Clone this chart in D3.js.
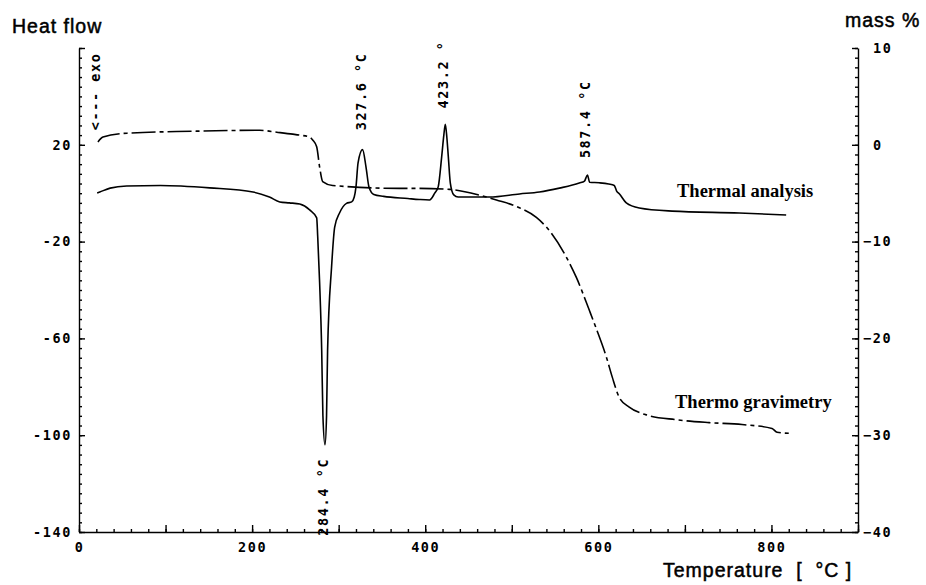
<!DOCTYPE html>
<meta charset="utf-8">
<style>
body { margin: 0; background: #fff; }
.tick text, .mono {
  font-family: "DejaVu Sans Mono", monospace;
  font-size: 13.5px;
  font-weight: bold;
  letter-spacing: 1.6px;
  fill: #000;
}
.title {
  font-family: "Liberation Sans", Arial, sans-serif;
  font-size: 19.5px;
  letter-spacing: 1px;
  fill: #000;
  stroke: #000;
  stroke-width: 0.5px;
}
.series {
  font-family: "Liberation Serif", "Times New Roman", serif;
  font-size: 18.5px;
  font-weight: bold;
  fill: #000;
}
.domain, .tick line { stroke: #000; stroke-width: 1.4px; }
</style>
<body>
<svg width="926" height="585"></svg>
<script src="https://d3js.org/d3.v7.min.js"></script>
<script>
// Thermal analysis (heat flow, left axis)
var dtaTemp = [21, 24, 36, 55, 94, 151, 201, 220, 232, 243, 255, 266.5, 274.6, 275.8, 278, 280.4, 281.8, 284.2,
  286, 287.2, 291.8, 295.4, 301, 309, 315, 318, 320, 322.4, 327.6, 331.6, 335, 340.6, 352, 380, 393, 405,
  411, 415, 419, 421.5, 423.2, 425, 426.7, 429, 433, 438, 463, 474, 509, 532, 555, 578, 584, 587.4, 590,
  601, 612, 618.4, 621, 624.2, 632.3, 647.3, 685.3, 762.7, 817];
var dtaHeat = [0.1, 0.5, 2.1, 3.0, 3.2, 2.2, 0.5, -1.6, -3.6, -4.0, -4.5, -6.9, -10.2, -18, -37, -65, -92, -104,
  -92, -65, -30.5, -14, -8.2, -4.2, -3.6, -1.6, 2.6, 12.5, 18, 10.8, 2.6, -0.5, -1.3, -2.2, -2.6, -2.8,
  0, 2.6, 15, 24, 28.5, 23, 15, 4.2, -0.7, -1.6, -1.6, -1.6, -0.3, 0.5, 2.1, 4.2, 5, 7.5, 4.5,
  4.3, 3.8, 3.2, 1.0, -0.2, -4.0, -6.1, -7.4, -8.2, -9.0];

// Thermo gravimetry (mass %, right axis)
var tgTemp = [21.9, 27.7, 55.4, 131.5, 208.8, 228.5, 247, 255, 266.5, 270, 274.6, 278, 281.5, 293, 370, 393.4,
  428, 462.7, 482.3, 508.8, 528.4, 540, 563, 574.6, 589.6, 597.7, 609.2, 616.1, 624.2, 635.7, 655.4,
  690, 728, 766, 800.7, 806.5, 820];
var tgMass = [0.3, 0.8, 1.2, 1.4, 1.5, 1.3, 1.1, 1.0, 0.8, 0.5, -0.2, -2.3, -3.8, -4.2, -4.5, -4.5,
  -4.6, -5.2, -5.7, -6.5, -7.5, -8.5, -11.6, -13.7, -17.1, -19.0, -21.9, -24, -26.1, -27.1, -27.9,
  -28.4, -28.7, -28.9, -29.3, -29.7, -29.8];

// peak annotations (temperature, label, label foot in heat-flow units)
var peakTemps = [284.4, 327.6, 423.2, 587.4];
var peakLabels = ["284.4 °C", "327.6 °C", "423.2 °", "587.4 °C"];
var peakFoot = [-141.5, 26, 35, 14.5];

var xTicksMinor = d3.range(0, 901, 20);
var xTicksMajor = d3.range(0, 901, 100);
var xTickLabels = [0, 200, 400, 600, 800];
var heatTicksMinor = d3.range(-140, 61, 4);
var heatTicksMajor = [-140, -100, -60, -20, 20, 60];
var heatTickLabels = [-140, -100, -60, -20, 20];
var massTicksMinor = d3.range(-40, 11, 1);
var massTicksMajor = [-40, -30, -20, -10, 0, 10];

var svg = d3.select("svg");
var pLeft = 79, pRight = 858, pTop = 48, pBottom = 532;

var x = d3.scaleLinear().domain([0, 900]).range([pLeft, pRight]);
var yHeat = d3.scaleLinear().domain([-140, 60]).range([pBottom, pTop]);
var yMass = d3.scaleLinear().domain([-40, 10]).range([pBottom, pTop]);

/* axes, ticks point inwards */
svg.append("g").attr("transform", "translate(0," + pBottom + ")")
    .call(d3.axisBottom(x).tickValues(xTicksMinor).tickSize(-3).tickSizeOuter(0).tickFormat(""));
svg.append("g").attr("transform", "translate(0," + pBottom + ")")
    .call(d3.axisBottom(x).tickValues(xTicksMajor).tickSize(-7).tickSizeOuter(0).tickPadding(10)
      .tickFormat(function(d) { return xTickLabels.indexOf(d) >= 0 ? d : ""; }))
    .call(function(g) { g.select(".domain").remove(); });

svg.append("g").attr("transform", "translate(" + pLeft + ",0)")
    .call(d3.axisLeft(yHeat).tickValues(heatTicksMinor).tickSize(-3).tickSizeOuter(0).tickFormat(""));
svg.append("g").attr("transform", "translate(" + pLeft + ",0)")
    .call(d3.axisLeft(yHeat).tickValues(heatTicksMajor).tickSize(-6).tickPadding(7)
      .tickFormat(function(d) { return heatTickLabels.indexOf(d) >= 0 ? d : ""; }))
    .call(function(g) { g.select(".domain").remove(); });

svg.append("g").attr("transform", "translate(" + pRight + ",0)")
    .call(d3.axisRight(yMass).tickValues(massTicksMinor).tickSize(-3).tickSizeOuter(0).tickFormat(""));
svg.append("g").attr("transform", "translate(" + pRight + ",0)")
    .call(d3.axisRight(yMass).tickValues(massTicksMajor).tickSize(-6))
    .call(function(g) {
      g.select(".domain").remove();
      g.selectAll(".tick text").attr("x", function(d) { return d < 0 ? 5 : 15; });
    });

svg.selectAll(".tick text").attr("class", "mono");

/* curves */
var dtaLine = d3.line()
    .x(function(d, i) { return x(dtaTemp[i]); })
    .y(function(d) { return yHeat(d); })
    .curve(d3.curveMonotoneX);

var tgLine = d3.line()
    .x(function(d, i) { return x(tgTemp[i]); })
    .y(function(d) { return yMass(d); })
    .curve(d3.curveMonotoneX);

svg.append("path")
    .attr("d", dtaLine(dtaHeat))
    .attr("fill", "none")
    .attr("stroke", "#000")
    .attr("stroke-width", 1.6);

svg.append("path")
    .attr("d", tgLine(tgMass))
    .attr("fill", "none")
    .attr("stroke", "#000")
    .attr("stroke-width", 1.6)
    .attr("stroke-dasharray", "24,4,4,4");

/* peak labels, rotated */
svg.selectAll(".peak")
    .data(peakTemps)
  .enter().append("text")
    .attr("class", "mono peak")
    .attr("transform", function(d, i) {
      return "translate(" + (x(d) + 3) + "," + yHeat(peakFoot[i]) + ") rotate(-90)";
    })
    .style("white-space", "pre")
    .text(function(d, i) { return peakLabels[i]; });

svg.append("text")
    .attr("class", "mono")
    .attr("transform", "translate(" + (x(20) + 4) + "," + yHeat(26) + ") rotate(-90)")
    .style("white-space", "pre")
    .text("<--- exo");

/* titles */
svg.append("text").attr("class", "title").attr("x", 12).attr("y", 33).text("Heat flow");
svg.append("text").attr("class", "title").attr("x", 845).attr("y", 27).text("mass %");
svg.append("text").attr("class", "title").attr("x", 663).attr("y", 577)
    .style("white-space", "pre").text("Temperature  [  °C ]");

svg.append("text").attr("class", "series").attr("x", 677).attr("y", 197).text("Thermal analysis");
svg.append("text").attr("class", "series").attr("x", 675).attr("y", 408).text("Thermo gravimetry");
</script>
